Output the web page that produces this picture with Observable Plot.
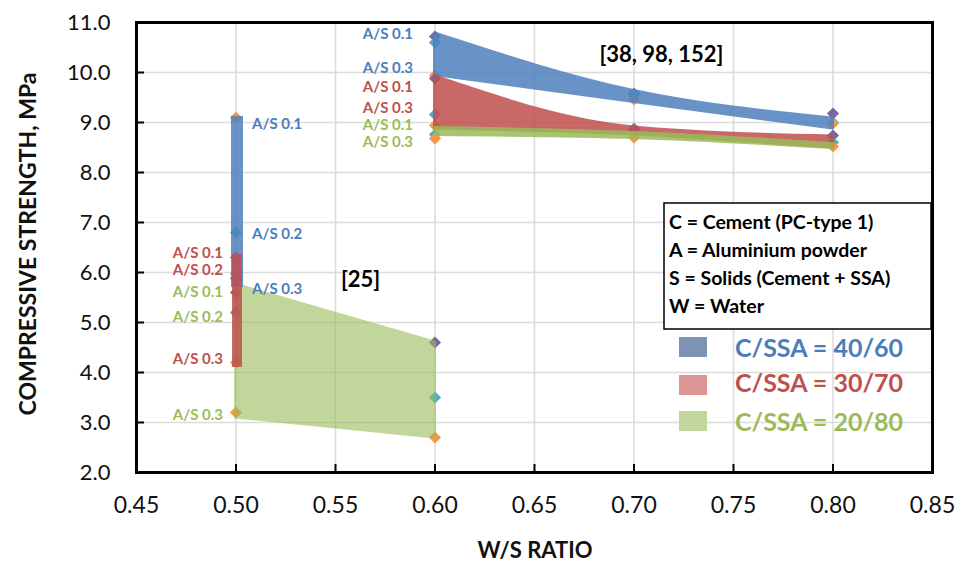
<!DOCTYPE html>
<html><head><meta charset="utf-8">
<script src="https://cdn.jsdelivr.net/npm/d3@7"></script>
<script src="https://cdn.jsdelivr.net/npm/@observablehq/plot@0.6"></script>
<style>
body{margin:0;background:#fff;}
#chart{width:955px;height:562px;position:relative;}
</style>
</head><body><div id="chart"></div>
<script>
// ---- axes ----
const xTicks = [0.45, 0.50, 0.55, 0.60, 0.65, 0.70, 0.75, 0.80, 0.85];
const yTicks = [2, 3, 4, 5, 6, 7, 8, 9, 10, 11];

// ---- band for refs [38, 98, 152] (W/S 0.6 - 0.8) ----
const bandX = [0.6, 0.7, 0.8];
const blueTop = [10.78, 9.63, 9.08];
const blueBottom = [9.95, 9.41, 8.88];
const redTop = [9.92, 8.90, 8.72];
const redBottom = [8.88, 8.76, 8.50];
const greenTop = [8.90, 8.80, 8.58];
const greenBottom = [8.74, 8.68, 8.48];

// ---- ref [25] (W/S 0.5 - 0.6), C/SSA 20/80 ----
const ref25X = [0.5, 0.6];
const green25Top = [5.75, 4.6];
const green25Bottom = [3.1, 2.7];

// ---- vertical ranges at W/S 0.5 ----
const barSeries = ["40/60", "30/70"];
const barX = [0.5, 0.5];
const barTop = [9.12, 6.36];
const barBottom = [5.7, 4.1];

// ---- individual data markers ----
const markerX = [0.5,0.5,0.5,0.5,0.5,0.5,0.5,0.5,0.5,
                 0.6,0.6,0.6,
                 0.6,0.6,0.6,0.6,0.6,0.6,0.6,0.6,
                 0.7,0.7,0.7,0.7,0.7,0.7,
                 0.8,0.8,0.8,0.8,0.8,0.8];
const markerY = [9.1,6.8,6.3,5.98,5.88,5.6,5.2,4.2,3.2,
                 4.6,3.5,2.7,
                 10.72,10.6,9.94,9.88,9.16,8.94,8.76,8.68,
                 9.58,9.55,9.46,8.88,8.86,8.7,
                 9.18,9.0,8.98,8.74,8.6,8.52];
const markerKind = ["o","c","p","c","p","p","c","o","o",
                    "p","c","o",
                    "p","c","o","p","c","o","c","o",
                    "p","c","o","c","p","o",
                    "p","c","o","p","c","o"];

// ---- point labels ----
const labelX = [0.5,0.5,0.5, 0.5,0.5,0.5, 0.5,0.5,0.5, 0.6,0.6, 0.6,0.6, 0.6,0.6];
const labelY = [8.96,6.76,5.66, 6.38,6.04,4.26, 5.6,5.1,3.14, 10.76,10.08, 9.7,9.28, 8.94,8.6];
const labelText = ["A/S 0.1","A/S 0.2","A/S 0.3","A/S 0.1","A/S 0.2","A/S 0.3","A/S 0.1","A/S 0.2","A/S 0.3",
                   "A/S 0.1","A/S 0.3","A/S 0.1","A/S 0.3","A/S 0.1","A/S 0.3"];
const labelSeries = ["40/60","40/60","40/60","30/70","30/70","30/70","20/80","20/80","20/80",
                     "40/60","40/60","30/70","30/70","20/80","20/80"];
const labelSide = ["right","right","right","left","left","left","left","left","left",
                   "left","left","left","left","left","left"];

// ---- annotations ----
const noteText = ["[38, 98, 152]", "[25]"];
const noteX = [0.7138, 0.5626];
const noteY = [10.36, 5.86];

// ---- legends ----
const keyLines = ["C = Cement (PC-type 1)", "A = Aluminium powder", "S = Solids (Cement + SSA)", "W = Water"];
const seriesNames = ["C/SSA = 40/60", "C/SSA = 30/70", "C/SSA = 20/80"];

// styles
const bandColor = {"40/60": "#4F81BD", "30/70": "#C0504D", "20/80": "#9BBB59"};
const textColor = {"40/60": "#4A7EBB", "30/70": "#C0504D", "20/80": "#9BBB59"};
const swatchColor = ["#7C93B5", "#DB9594", "#C3D69B"];
const markerColor = {p: "#8064A2", c: "#4BACC6", o: "#F79646"};

// build tables
const upper = bandX.map((x, i) => ({x, blueTop: blueTop[i], blueBottom: blueBottom[i], redTop: redTop[i], redBottom: redBottom[i], greenTop: greenTop[i], greenBottom: greenBottom[i]}));
const ref25 = ref25X.map((x, i) => ({x, top: green25Top[i], bottom: green25Bottom[i]}));
const bars = barSeries.map((s, i) => ({s, x: barX[i], top: barTop[i], bottom: barBottom[i]}));
const markers = markerX.map((x, i) => ({x, y: markerY[i], k: markerKind[i]}));
const labels = labelX.map((x, i) => ({x, y: labelY[i], text: labelText[i], s: labelSeries[i], side: labelSide[i]}));
const notes = noteText.map((t, i) => ({t, x: noteX[i], y: noteY[i]}));

const FONT = "Lato, 'Open Sans', sans-serif";
const lblR = labels.filter(d => d.side === "right");
const lblL5 = labels.filter(d => d.side === "left" && d.x === 0.5);
const lblL6 = labels.filter(d => d.side === "left" && d.x === 0.6);

const chart = Plot.plot({
  width: 955, height: 562,
  marginLeft: 136, marginRight: 23, marginTop: 22, marginBottom: 90,
  style: {fontFamily: FONT, background: "white"},
  x: {domain: [0.45, 0.85], label: null},
  y: {domain: [2, 11], label: null},
  marks: [
    Plot.gridX(xTicks, {stroke: "#dcdcdc", strokeOpacity: 1, strokeWidth: 1.6}),
    Plot.gridY(yTicks, {stroke: "#dcdcdc", strokeOpacity: 1, strokeWidth: 1.6}),
    Plot.dot(markers, {x: "x", y: "y", symbol: "diamond2", r: 5.5, fill: d => markerColor[d.k], stroke: "none"}),
    Plot.areaY(ref25, {x: "x", y1: "bottom", y2: "top", fill: bandColor["20/80"], stroke: bandColor["20/80"], strokeWidth: 3, opacity: 0.6}),
    Plot.ruleX(bars.filter(d => d.s === "40/60"), {x: "x", y1: "bottom", y2: "top", stroke: bandColor["40/60"], strokeWidth: 12, opacity: 0.85, dx: 1}),
    Plot.ruleX(bars.filter(d => d.s === "30/70"), {x: "x", y1: "bottom", y2: "top", stroke: bandColor["30/70"], strokeWidth: 10, opacity: 0.85, dx: 1}),
    Plot.areaY(upper, {x: "x", y1: "blueBottom", y2: "blueTop", fill: bandColor["40/60"], stroke: bandColor["40/60"], strokeWidth: 3, opacity: 0.85, curve: "monotone-x"}),
    Plot.areaY(upper, {x: "x", y1: "redBottom", y2: "redTop", fill: bandColor["30/70"], stroke: bandColor["30/70"], strokeWidth: 3, opacity: 0.85, curve: "monotone-x"}),
    Plot.areaY(upper, {x: "x", y1: "greenBottom", y2: "greenTop", fill: bandColor["20/80"], stroke: bandColor["20/80"], strokeWidth: 2, opacity: 0.85, curve: "monotone-x"}),
    Plot.text(lblR, {x: "x", y: "y", text: "text", fill: d => textColor[d.s], textAnchor: "start", dx: 16, fontSize: 15, fontWeight: "bold"}),
    Plot.text(lblL5, {x: "x", y: "y", text: "text", fill: d => textColor[d.s], textAnchor: "end", dx: -13, fontSize: 15, fontWeight: "bold"}),
    Plot.text(lblL6, {x: "x", y: "y", text: "text", fill: d => textColor[d.s], textAnchor: "end", dx: -22, fontSize: 15, fontWeight: "bold"}),
    Plot.text(notes, {x: "x", y: "y", text: "t", fill: "black", fontSize: 22, fontWeight: "bold"}),
    Plot.frame({stroke: "black", strokeWidth: 3}),
    Plot.axisX({ticks: xTicks, tickSize: -8, fill: "none", stroke: "black", strokeWidth: 2, label: null}),
    Plot.axisY({ticks: yTicks, tickSize: -8, fill: "none", stroke: "black", strokeWidth: 2, label: null}),
    Plot.axisX({ticks: xTicks, tickSize: 0, tickPadding: 24, tickFormat: d3.format(".2f"), fontSize: 23, fill: "#111", label: null}),
    Plot.axisY({ticks: yTicks, tickSize: 0, tickPadding: 26, tickFormat: d3.format(".1f"), fontSize: 22, fill: "#111", label: null})
  ]
});
document.getElementById("chart").appendChild(chart);

const svg = d3.select(chart);

// axis titles
svg.append("text").attr("transform", "translate(28,244) rotate(-90)")
  .attr("text-anchor", "middle").attr("dy", "0.36em")
  .style("font-family", FONT).style("font-weight", "bold").style("font-size", "23px").attr("fill", "#111")
  .text("COMPRESSIVE STRENGTH, MPa");
svg.append("text").attr("x", 535).attr("y", 550)
  .attr("text-anchor", "middle").attr("dy", "0.36em")
  .style("font-family", FONT).style("font-weight", "bold").style("font-size", "22px").attr("fill", "#111")
  .text("W/S RATIO");

// definitions box
const box = svg.append("g");
box.append("rect").attr("x", 664).attr("y", 203).attr("width", 267).attr("height", 126)
  .attr("fill", "white").attr("stroke", "black").attr("stroke-width", 1.5);
keyLines.forEach((t, i) => {
  box.append("text").attr("x", 669).attr("y", 229 + i * 28).attr("text-anchor", "start")
    .style("font-family", FONT).style("font-weight", "bold").style("font-size", "19.5px").attr("fill", "black")
    .text(t);
});
// series legend
const sw = svg.append("g");
const swY = [337, 375, 411];
const txY = [357, 392, 431];
const seriesKeys = ["40/60", "30/70", "20/80"];
seriesNames.forEach((t, i) => {
  sw.append("rect").attr("x", 679).attr("y", swY[i]).attr("width", 28).attr("height", 20).attr("fill", swatchColor[i]);
  sw.append("text").attr("x", 819).attr("y", txY[i]).attr("text-anchor", "middle")
    .style("font-family", FONT).style("font-weight", "bold").style("font-size", "25px").attr("fill", textColor[seriesKeys[i]])
    .text(t);
});
</script>
</body></html>
